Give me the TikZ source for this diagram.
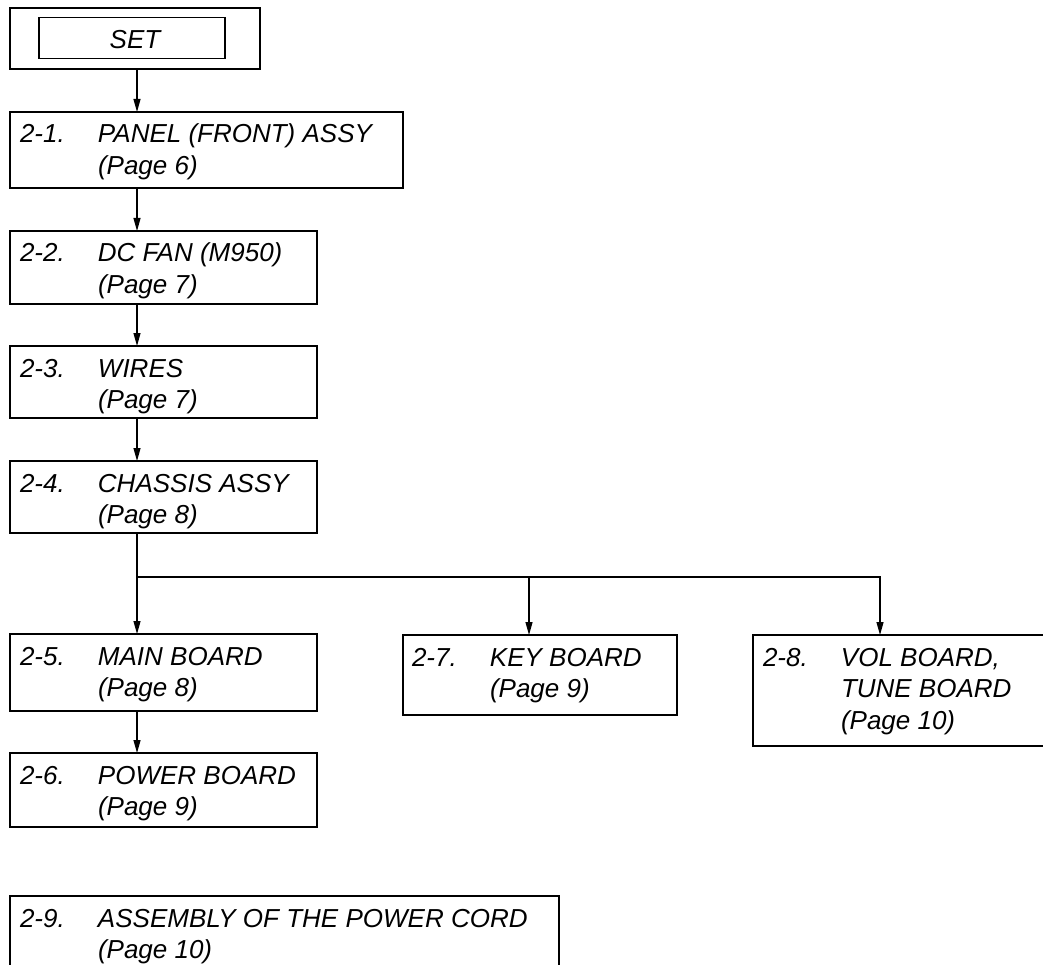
\documentclass[tikz,border=0pt]{standalone}
\usepackage{fontspec}
\setmainfont{Liberation Sans}
\usetikzlibrary{arrows.meta}
\newcommand\entrytab[1]{\begin{tabular}[t]{@{}l@{}l@{}}#1\end{tabular}}
\newcommand\nb[1]{\makebox[78pt][l]{#1}}
\begin{document}
\begin{tikzpicture}[x=1pt,y=-1pt,
  box/.style={draw, line width=1.2pt, inner sep=0pt, outer sep=0pt, anchor=north west},
  lbl/.style={anchor=base west, inner sep=0pt, outer sep=0pt, align=left,
    font=\fontsize{26}{31.5}\selectfont\itshape},
  arr/.style={line width=1.2pt, -{Triangle[length=13pt,width=7pt]}},
  con/.style={line width=1.2pt}]
\clip (0,0) rectangle (1043,965);
\fill[white] (0,0) rectangle (1043,965);
% boxes
\node[box, minimum width=250pt, minimum height=61pt] (set) at (10,8) {};
\node[box, minimum width=186pt, minimum height=41pt, anchor=center] (setin) at (132,38) {};
\node[anchor=center, inner sep=0pt, font=\fontsize{26}{31.5}\selectfont\itshape] (settext) at (135,40) {SET};
\node[box, minimum width=393pt, minimum height=76pt] (b1) at (10,112) {};
\node[box, minimum width=307pt, minimum height=73pt] (b2) at (10,231) {};
\node[box, minimum width=307pt, minimum height=72pt] (b3) at (10,346) {};
\node[box, minimum width=307pt, minimum height=72pt] (b4) at (10,461) {};
\node[box, minimum width=307pt, minimum height=77pt] (b5) at (10,634) {};
\node[box, minimum width=307pt, minimum height=74pt] (b6) at (10,753) {};
\node[box, minimum width=274pt, minimum height=80pt] (b7) at (403,635) {};
\node[box, minimum width=310pt, minimum height=111pt] (b8) at (753,635) {};
\node[box, minimum width=549pt, minimum height=100pt] (b9) at (10,896) {};
% texts
\node[lbl] (t1) at ([xshift=10pt,yshift=-31pt]b1.north west)
  {\entrytab{\nb{2-1.}&PANEL (FRONT) ASSY\\&(Page 6)}};
\node[lbl] (t2) at ([xshift=10pt,yshift=-31pt]b2.north west)
  {\entrytab{\nb{2-2.}&DC FAN (M950)\\&(Page 7)}};
\node[lbl] (t3) at ([xshift=10pt,yshift=-31pt]b3.north west)
  {\entrytab{\nb{2-3.}&WIRES\\&(Page 7)}};
\node[lbl] (t4) at ([xshift=10pt,yshift=-31pt]b4.north west)
  {\entrytab{\nb{2-4.}&CHASSIS ASSY\\&(Page 8)}};
\node[lbl] (t5) at ([xshift=10pt,yshift=-31pt]b5.north west)
  {\entrytab{\nb{2-5.}&MAIN BOARD\\&(Page 8)}};
\node[lbl] (t6) at ([xshift=10pt,yshift=-31pt]b6.north west)
  {\entrytab{\nb{2-6.}&POWER BOARD\\&(Page 9)}};
\node[lbl] (t7) at ([xshift=9pt,yshift=-31pt]b7.north west)
  {\entrytab{\nb{2-7.}&KEY BOARD\\&(Page 9)}};
\node[lbl] (t8) at ([xshift=10pt,yshift=-31pt]b8.north west)
  {\entrytab{\nb{2-8.}&VOL BOARD,\\&TUNE BOARD\\&(Page 10)}};
\node[lbl] (t9) at ([xshift=10pt,yshift=-31pt]b9.north west)
  {\entrytab{\nb{2-9.}&ASSEMBLY OF THE POWER CORD\\&(Page 10)}};
% connectors
\coordinate (spine) at (137,0);
\coordinate (a7) at (529,0);
\coordinate (a8) at (880,0);
\coordinate (br) at (137,577);
\draw[arr] (set.south -| spine) -- (b1.north -| spine);
\draw[arr] (b1.south -| spine) -- (b2.north -| spine);
\draw[arr] (b2.south -| spine) -- (b3.north -| spine);
\draw[arr] (b3.south -| spine) -- (b4.north -| spine);
\draw[con] (b4.south -| spine) -- (br);
\draw[arr] (br) -- (b5.north -| spine);
\draw[arr] (b5.south -| spine) -- (b6.north -| spine);
\draw[arr] (br) -- (br -| a8) -- (b8.north -| a8);
\draw[arr] (br -| a7) -- (b7.north -| a7);
\end{tikzpicture}
\end{document}
